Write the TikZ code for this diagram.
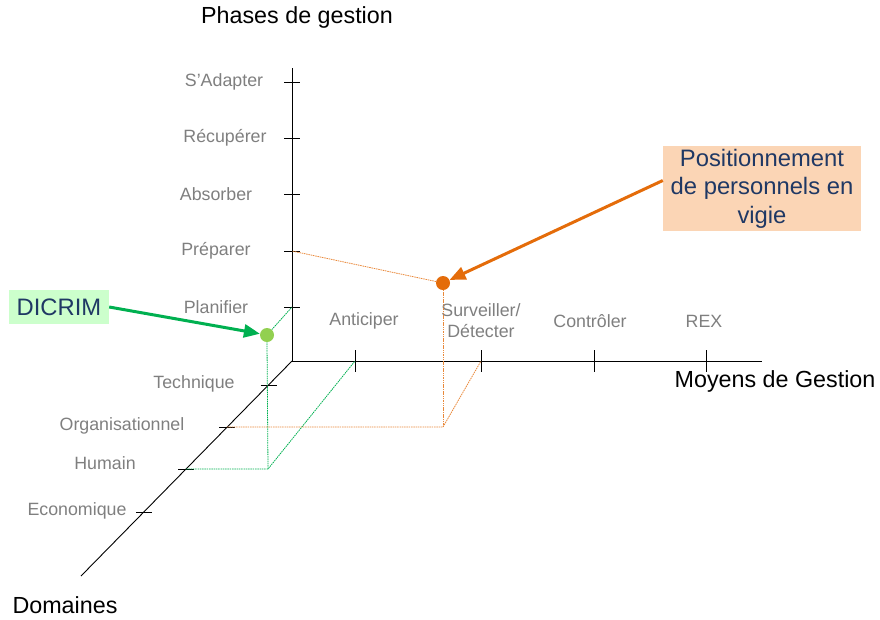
\documentclass[tikz,border=0pt]{standalone}
\usepackage{fontspec}
\setmainfont{Liberation Sans}
\usetikzlibrary{arrows.meta}
\definecolor{lbl}{HTML}{7F7F7F}
\definecolor{navy}{HTML}{1F3864}
\definecolor{gbox}{HTML}{CCFFCC}
\definecolor{obox}{HTML}{FBD5B5}
\definecolor{garrow}{HTML}{00B050}
\definecolor{gdotc}{HTML}{92D050}
\definecolor{orng}{HTML}{E46C0A}
\definecolor{gdash}{HTML}{00B050}
\begin{document}
\begin{tikzpicture}[x=1pt,y=-1pt,
  axis/.style={draw=black,line width=0.9pt},
  tick/.style={draw=black,line width=0.9pt},
  small/.style={text=lbl,font=\fontsize{17.8}{20}\selectfont,inner sep=0pt},
  big/.style={text=black,font=\fontsize{23.3}{26}\selectfont,inner sep=0pt},
  gdashed/.style={draw=gdash,line width=0.8pt,dash pattern=on 1.5pt off 0.8pt},
  odashed/.style={draw=orng!80,line width=0.8pt,dash pattern=on 1.5pt off 0.8pt},
  dotnode/.style={circle,inner sep=0pt,minimum size=14pt},
  callout/.style={font=\fontsize{23.8}{28.5}\selectfont,text=navy,align=center}
]
\useasboundingbox (0,0) rectangle (880,619);
% axes
\coordinate (O) at (292,361);
\coordinate (vtop) at (292,68);
\coordinate (hend) at (762,361);
\coordinate (dend) at (81,576);
\draw[axis] (vtop) -- (O) -- (hend);
\draw[axis] (O) -- (dend);
% vertical ticks
\foreach \n/\y in {adapt/82,recup/138,absorb/194,prep/251,plan/307}{
  \coordinate (\n) at (292,\y);
  \draw[tick] ([xshift=-8pt]\n) -- ([xshift=8pt]\n);
}
% horizontal ticks
\foreach \n/\x in {antic/355,surv/481,contr/594,rex/706}{
  \coordinate (\n) at (\x,361);
  \draw[tick] ([yshift=11pt]\n) -- ([yshift=-11pt]\n);
}
% diagonal ticks
\foreach \n/\x/\y in {tech/268.5/385,orga/227/427,hum/186/469,eco/144/512}{
  \coordinate (\n) at (\x,\y);
  \draw[tick] ([xshift=-8pt]\n) -- ([xshift=8pt]\n);
}
% vertical labels
\node[small] (l1) at (224,82) {S’Adapter};
\node[small] (l2) at (225,138) {Récupérer};
\node[small] (l3) at (216,194) {Absorber};
\node[small] (l4) at (216,251) {Préparer};
\node[small] (l5) at (216,307) {Planifier};
% horizontal labels
\node[small] (h1) at (364,321) {Anticiper};
\node[small,align=center,font=\fontsize{17.8}{21}\selectfont] (h2) at (481,321) {Surveiller/\\Détecter};
\node[small] (h3) at (590,321) {Contrôler};
\node[small] (h4) at (704,321) {REX};
% diagonal labels
\node[small] (d1) at (194,384) {Technique};
\node[small] (d2) at (122,426) {Organisationnel};
\node[small] (d3) at (105,463) {Humain};
\node[small] (d4) at (77,511) {Economique};
% axis titles
\node[big] (t1) at (297,17) {Phases de gestion};
\node[big] (t2) at (775,381) {Moyens de Gestion};
\node[big] (t3) at (65,605) {Domaines};
% green construction
\coordinate (gc) at (268,469);
\node[dotnode,fill=gdotc] (gdot) at (267,335) {};
\draw[gdashed] (hum) -- (gc) -- (antic);
\draw[gdashed] (gc) -- (gdot.south);
\draw[gdashed] (gdot) -- (plan);
% orange construction
\coordinate (oc) at (443,427);
\node[dotnode,fill=orng] (odot) at (443,283) {};
\draw[odashed] (orga) -- (oc) -- (surv);
\draw[odashed] (oc) -- (odot.south);
\draw[odashed] (odot) -- (prep);
% callouts
\node[callout,fill=gbox,minimum width=100pt,minimum height=34pt,inner sep=0pt] (dicrim) at (59,307) {DICRIM};
\node[callout,fill=obox,minimum width=198pt,minimum height=85pt,inner sep=0pt] (pos) at (762,188.5) {Positionnement\\de personnels en\\vigie};
\draw[draw=garrow,line width=3pt,-{Triangle[length=16pt,width=13pt]}] (dicrim.east) -- (gdot);
\draw[draw=orng,line width=3pt,-{Triangle[length=16pt,width=13pt]}] ([yshift=8pt]pos.west) -- (odot);
\end{tikzpicture}
\end{document}
